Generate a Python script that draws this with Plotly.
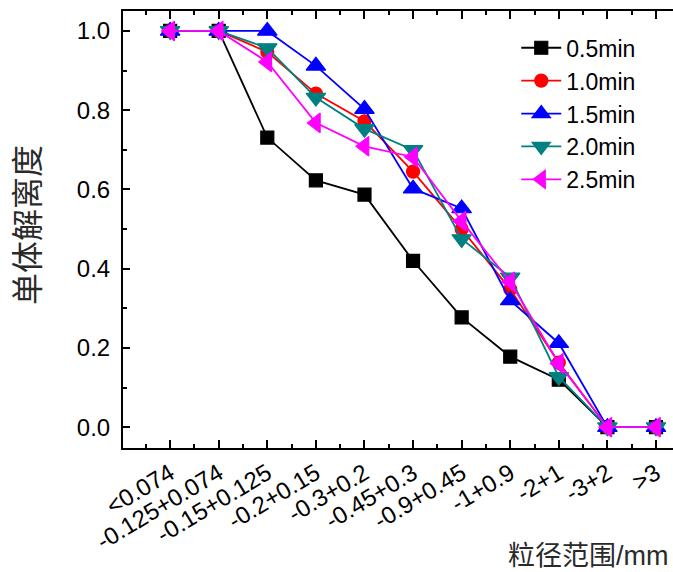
import plotly.graph_objects as go

# Particle size classes (mm)
size_classes = ["<0.074", "-0.125+0.074", "-0.15+0.125", "-0.2+0.15", "-0.3+0.2",
                "-0.45+0.3", "-0.9+0.45", "-1+0.9", "-2+1", "-3+2", ">3"]

# Liberation degree for each grinding time
lib_05 = [1.0, 1.0, 0.731, 0.623, 0.587, 0.420, 0.277, 0.178, 0.120, 0.0, 0.0]
lib_10 = [1.0, 1.0, 0.947, 0.842, 0.772, 0.645, 0.500, 0.348, 0.163, 0.0, 0.0]
lib_15 = [1.0, 1.0, 1.000, 0.912, 0.803, 0.602, 0.552, 0.320, 0.212, 0.0, 0.0]
lib_20 = [1.0, 1.0, 0.957, 0.832, 0.753, 0.700, 0.475, 0.378, 0.127, 0.0, 0.0]
lib_25 = [1.0, 1.0, 0.922, 0.768, 0.709, 0.682, 0.520, 0.367, 0.161, 0.0, 0.0]

series_names = ["0.5min", "1.0min", "1.5min", "2.0min", "2.5min"]
series_values = [lib_05, lib_10, lib_15, lib_20, lib_25]
series_colors = ["#000000", "#ff0000", "#0000ff", "#008080", "#ff00ff"]
series_symbols = ["square", "circle", "triangle-up", "triangle-down", "triangle-left"]
series_sizes = [13, 13, 17, 17, 17]

xpos = list(range(len(size_classes)))

fig = go.Figure()
for name, vals, col, sym, sz in zip(series_names, series_values, series_colors,
                                    series_symbols, series_sizes):
    fig.add_trace(go.Scatter(
        x=xpos, y=vals, name=name, mode="lines+markers",
        line=dict(color=col, width=1.8),
        marker=dict(symbol=sym, size=sz, color=col, line=dict(color=col, width=1.2)),
    ))

font_latin = "Liberation Sans, Arial, sans-serif"
font_cjk = "Liberation Sans, Noto Sans CJK SC, sans-serif"

fig.update_layout(
    width=673, height=572,
    margin=dict(l=123, r=0, t=11, b=124),
    paper_bgcolor="white", plot_bgcolor="white",
    font=dict(family=font_latin, size=24, color="black"),
    showlegend=True,
    legend=dict(x=0.715, y=0.965, xanchor="left", yanchor="top",
                bgcolor="rgba(0,0,0,0)", font=dict(size=23),
                itemwidth=40),
    annotations=[
        dict(text="单体解离度", xref="paper", yref="paper", x=-0.173, y=0.51,
             xanchor="center", yanchor="middle", textangle=-90, showarrow=False,
             font=dict(family=font_cjk, size=32, color="#2a2a2a")),
        dict(text="粒径范围/mm", xref="paper", yref="paper", x=0.845, y=-0.247,
             xanchor="center", yanchor="middle", showarrow=False,
             font=dict(family=font_cjk, size=27, color="#2a2a2a")),
    ],
)

fig.update_xaxes(
    range=[-0.97, 10.35], tickmode="array", tickvals=xpos, ticktext=size_classes,
    tickangle=-31, showgrid=False, zeroline=False,
    showline=True, linecolor="black", linewidth=2, mirror="ticks",
    ticks="inside", ticklen=8, tickwidth=1.5, tickcolor="black",
    minor=dict(dtick=0.5, tick0=0, ticks="inside", ticklen=4, tickwidth=1.5,
               tickcolor="black", showgrid=False),
    tickfont=dict(size=24),
)
fig.update_yaxes(
    range=[-0.0525, 1.0504], dtick=0.2, tick0=0, tickformat=".1f",
    showgrid=False, zeroline=False,
    showline=True, linecolor="black", linewidth=2, mirror=False,
    ticks="inside", ticklen=7, tickwidth=1.5, tickcolor="black",
    minor=dict(dtick=0.1, tick0=0, ticks="inside", ticklen=4, tickwidth=1.5,
               tickcolor="black", showgrid=False),
    tickfont=dict(size=24), ticklabelstandoff=6,
)

fig.write_html("out.html")
